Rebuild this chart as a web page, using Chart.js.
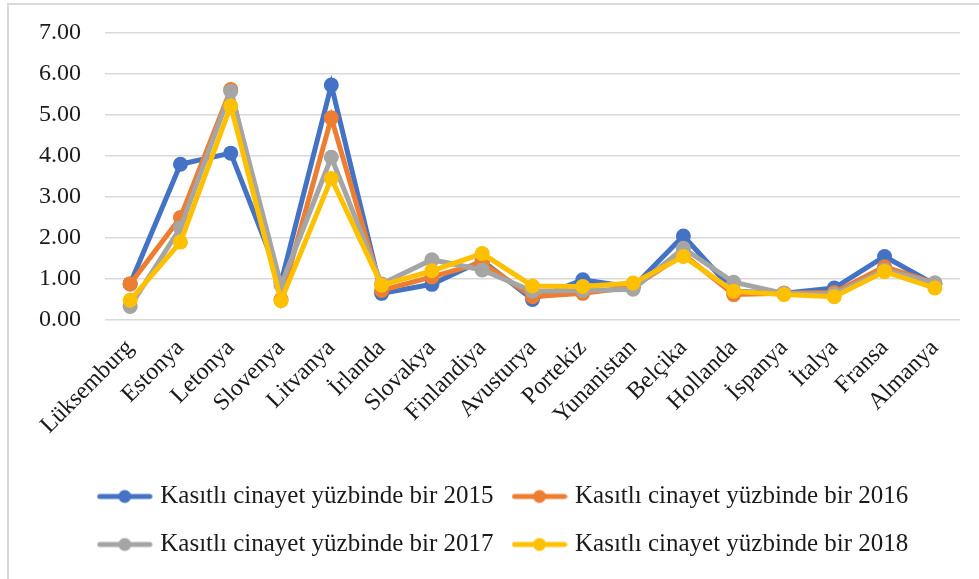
<!DOCTYPE html>
<html>
<head>
<meta charset="utf-8">
<script src="https://cdn.jsdelivr.net/npm/chart.js@4/dist/chart.umd.min.js"></script>
<style>
  body { margin: 0; background: #fff; }
  #frame { position: absolute; left: 7px; top: 3px; width: 1000px; height: 600px; border: 2px solid #d9d9d9; box-sizing: border-box; }
  #wrap { position: absolute; left: 0; top: 0; width: 979px; height: 579px; }
</style>
</head>
<body>
<div id="frame"></div>
<div id="wrap"><canvas id="myChart"></canvas></div>
<script>
'use strict';

const countries = ['Lüksemburg', 'Estonya', 'Letonya', 'Slovenya', 'Litvanya', 'İrlanda', 'Slovakya', 'Finlandiya',
  'Avusturya', 'Portekiz', 'Yunanistan', 'Belçika', 'Hollanda', 'İspanya', 'İtalya', 'Fransa', 'Almanya'];

const rate2015 = [0.88, 3.80, 4.07, 0.92, 5.73, 0.65, 0.87, 1.45, 0.50, 0.98, 0.80, 2.05, 0.70, 0.65, 0.78, 1.55, 0.87];
const rate2016 = [0.88, 2.50, 5.62, 0.50, 4.93, 0.72, 1.05, 1.40, 0.57, 0.65, 0.80, 1.60, 0.62, 0.65, 0.67, 1.30, 0.90];
const rate2017 = [0.33, 2.25, 5.58, 0.85, 3.97, 0.88, 1.47, 1.22, 0.70, 0.72, 0.75, 1.75, 0.92, 0.65, 0.63, 1.22, 0.90];
const rate2018 = [0.48, 1.90, 5.22, 0.47, 3.45, 0.85, 1.20, 1.62, 0.83, 0.82, 0.90, 1.55, 0.70, 0.62, 0.57, 1.18, 0.78];

const seriesNames = ['Kasıtlı cinayet yüzbinde bir 2015', 'Kasıtlı cinayet yüzbinde bir 2016',
  'Kasıtlı cinayet yüzbinde bir 2017', 'Kasıtlı cinayet yüzbinde bir 2018'];
const colors = ['#4472C4', '#ED7D31', '#A5A5A5', '#FFC000'];

const FONT = "'Liberation Serif', 'DejaVu Serif', serif";
const TEXT = '#1a1a1a';

// little line-with-dot icon for each legend entry
function legendIcon(color) {
  const c = document.createElement('canvas');
  c.width = 56;
  c.height = 16;
  const ctx = c.getContext('2d');
  ctx.strokeStyle = color;
  ctx.lineWidth = 5;
  ctx.lineCap = 'round';
  ctx.beginPath();
  ctx.moveTo(3, 8);
  ctx.lineTo(53, 8);
  ctx.stroke();
  ctx.fillStyle = color;
  ctx.beginPath();
  ctx.arc(28, 8, 6.5, 0, Math.PI * 2);
  ctx.fill();
  return c;
}
const icons = colors.map(legendIcon);

function makeSet(i, values) {
  return {
    label: seriesNames[i],
    data: values,
    borderColor: colors[i],
    backgroundColor: colors[i],
    borderWidth: 5,
    pointRadius: 7.5,
    pointHoverRadius: 8,
    pointBorderWidth: 0,
    tension: 0,
    order: 4 - i
  };
}

const data = {
  labels: countries,
  datasets: [
    makeSet(0, rate2015),
    makeSet(1, rate2016),
    makeSet(2, rate2017),
    makeSet(3, rate2018)
  ]
};

// legend in the original sits a bit right of centre
const shiftLegend = {
  id: 'shiftLegend',
  afterLayout(chart) {
    chart.legend.left += 25;
    chart.legend.right += 25;
  }
};

const config = {
  type: 'line',
  data: data,
  plugins: [shiftLegend],
  options: {
    responsive: true,
    maintainAspectRatio: false,
    animation: false,
    layout: { padding: { top: 33, right: 19, bottom: 12, left: 0 } },
    scales: {
      x: {
        offset: true,
        grid: { display: false },
        border: { display: false },
        ticks: {
          color: TEXT,
          font: { family: FONT, size: 24 },
          minRotation: 45,
          maxRotation: 45,
          padding: 6
        },
        afterFit: (scale) => { scale.height = 141; }
      },
      y: {
        min: 0,
        max: 7,
        grid: { color: '#d9d9d9', lineWidth: 1.5, drawTicks: false },
        border: { display: false },
        ticks: {
          stepSize: 1,
          color: TEXT,
          padding: 24,
          font: { family: FONT, size: 24 },
          callback: (v) => v.toFixed(2)
        },
        afterFit: (scale) => {
          scale.width = 105;
          scale.paddingTop = 0;
          scale.paddingBottom = 0;
        }
      }
    },
    plugins: {
      tooltip: { enabled: false },
      legend: {
        position: 'bottom',
        labels: {
          color: TEXT,
          font: { family: FONT, size: 25 },
          usePointStyle: true,
          pointStyleWidth: 46,
          padding: 23,
          generateLabels: (chart) => {
            const items = Chart.defaults.plugins.legend.labels.generateLabels(chart);
            items.sort((a, b) => a.datasetIndex - b.datasetIndex);
            items.forEach((it) => { it.pointStyle = icons[it.datasetIndex]; });
            return items;
          }
        }
      }
    }
  }
};

const myChart = new Chart(document.getElementById('myChart'), config);
</script>
</body>
</html>
